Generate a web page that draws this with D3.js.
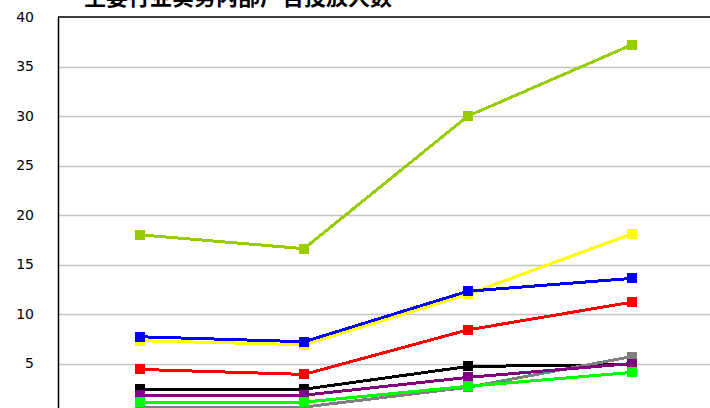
<!DOCTYPE html>
<html>
<head>
<meta charset="utf-8">
<script src="https://cdn.jsdelivr.net/npm/d3@7"></script>
<style>
  html, body { margin: 0; padding: 0; background: #fff; overflow: hidden; }
  svg { display: block; }
</style>
</head>
<body>
<svg id="chart" width="710" height="408"></svg>
<script>
const title = "主要行业实务内部广告投放人数";
const categories = ["1", "2", "3", "4"];
const yTicks = [0, 5, 10, 15, 20, 25, 30, 35, 40];
const seriesNames = ["系列1", "系列2", "系列3", "系列4", "系列5", "系列6", "系列7", "系列8"];
const seriesColors = ["#99CC00", "#FFFF00", "#0000FF", "#FF0000", "#000000", "#808080", "#800080", "#00FF00"];
const s1 = [18.0, 16.6, 30.0, 37.2];
const s2 = [7.3, 6.9, 12.0, 18.1];
const s3 = [7.7, 7.2, 12.3, 13.6];
const s4 = [4.4, 3.9, 8.4, 11.2];
const s5 = [2.4, 2.4, 4.7, 4.9];
const s6 = [0.6, 0.6, 2.6, 5.7];
const s7 = [1.8, 1.8, 3.6, 5.0];
const s8 = [1.1, 1.1, 2.7, 4.1];
const seriesValues = [s1, s2, s3, s4, s5, s6, s7, s8];

(function () {
const svg = d3.select("#chart");
const mLeft = 58, mRight = 714, mTop = 17, mBottom = 413;

const x = d3.scaleBand().domain(categories).range([mLeft, mRight]).padding(0);
const y = d3.scaleLinear().domain([0, 40]).range([mBottom, mTop]);

// gridlines
svg.append("g").selectAll("line").data(yTicks.filter(t => t > 0 && t < 40)).join("line")
  .attr("x1", mLeft).attr("x2", 710)
  .attr("y1", d => Math.round(y(d)) + 0.5).attr("y2", d => Math.round(y(d)) + 0.5)
  .attr("stroke", "#c4c4c4").attr("stroke-width", 1.5);

// top frame
svg.append("line").attr("x1", mLeft).attr("x2", 710)
  .attr("y1", y(40)).attr("y2", y(40))
  .attr("stroke", "#000").attr("stroke-width", 1.5);

// y axis
const yAxis = d3.axisLeft(y).tickValues(yTicks).tickSize(0).tickPadding(24);
const gy = svg.append("g").attr("transform", `translate(${mLeft},0)`).call(yAxis);
gy.select(".domain").attr("stroke", "#000").attr("stroke-width", 1.5);
gy.selectAll("text").attr("font-family", "DejaVu Sans, sans-serif").attr("font-size", 14).attr("fill", "#000");

// x axis line (below the visible area, as in the cropped reference)
const xAxis = d3.axisBottom(x).tickSize(0).tickFormat("");
const gx = svg.append("g").attr("transform", `translate(0,${mBottom})`).call(xAxis);
gx.select(".domain").attr("stroke", "#000");

// series
const cx = c => x(c) + x.bandwidth() / 2;
const line = d3.line().x((d, i) => cx(categories[i])).y(d => y(d));

seriesValues.forEach((vals, si) => {
  const g = svg.append("g").attr("class", "series").attr("data-name", seriesNames[si]);
  g.append("path").datum(vals).attr("d", line)
    .attr("fill", "none").attr("stroke", seriesColors[si]).attr("stroke-width", 3)
    .attr("shape-rendering", "crispEdges");
  g.selectAll("rect").data(vals).join("rect")
    .attr("x", (d, i) => Math.round(cx(categories[i]) - 5))
    .attr("y", d => Math.round(y(d) - 5))
    .attr("width", 10).attr("height", 10)
    .attr("fill", seriesColors[si]);
});

// title (partly cut at top)
svg.append("text").attr("x", 238).attr("y", 5)
  .attr("text-anchor", "middle")
  .attr("font-family", "Noto Sans CJK SC, sans-serif")
  .attr("font-weight", "bold").attr("font-size", 22)
  .attr("fill", "#000")
  .text(title);
})();
</script>
</body>
</html>
